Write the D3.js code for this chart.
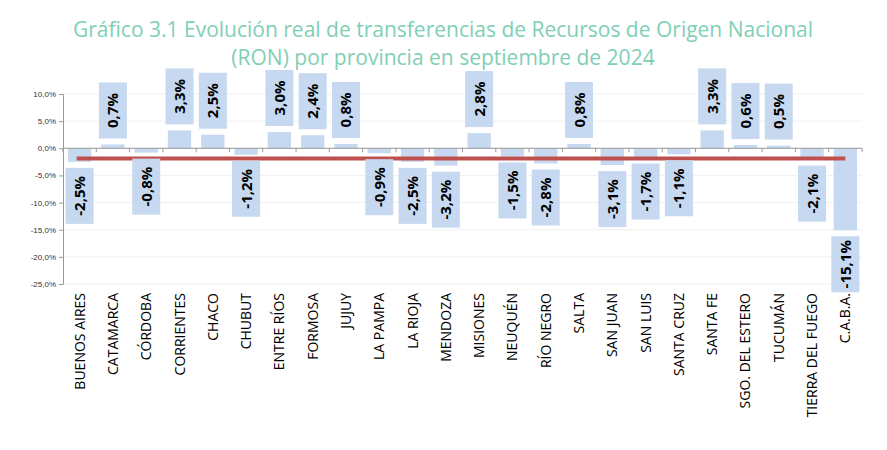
<!DOCTYPE html><html><head><meta charset="utf-8"><script src="https://cdn.jsdelivr.net/npm/d3@7"></script>
<style>body{margin:0;background:#fff}</style></head><body><svg id="c" width="887" height="450"></svg>
<script>
const categories=["BUENOS AIRES","CATAMARCA","CÓRDOBA","CORRIENTES","CHACO","CHUBUT","ENTRE RÍOS","FORMOSA","JUJUY","LA PAMPA","LA RIOJA","MENDOZA","MISIONES","NEUQUÉN","RÍO NEGRO","SALTA","SAN JUAN","SAN LUIS","SANTA CRUZ","SANTA FE","SGO. DEL ESTERO","TUCUMÁN","TIERRA DEL FUEGO","C.A.B.A."];
const values=[-2.5,0.7,-0.8,3.3,2.5,-1.2,3.0,2.4,0.8,-0.9,-2.5,-3.2,2.8,-1.5,-2.8,0.8,-3.1,-1.7,-1.1,3.3,0.6,0.5,-2.1,-15.1];
const average=-1.9;
const yTicks=[10,5,0,-5,-10,-15,-20,-25];
const svg=d3.select("#c");
const x=d3.scaleBand().domain(categories).range([63,862]).paddingInner(0.3).paddingOuter(0.15);
const xb=d3.scaleBand().domain(categories).range([63,862]);
const y=d3.scaleLinear().domain([-25,10]).range([284,94]);
const fmt=v=>v.toFixed(1).replace(".",",")+"%";
svg.append("text").attr("x",443).attr("y",37).attr("text-anchor","middle").attr("fill","#7fcfb5").style("font","21px 'Open Sans'").text("Gráfico 3.1 Evolución real de transferencias de Recursos de Origen Nacional");
svg.append("text").attr("x",443).attr("y",65).attr("text-anchor","middle").attr("fill","#7fcfb5").style("font","21px 'Open Sans'").text("(RON) por provincia en septiembre de 2024");
svg.append("g").selectAll("line").data(yTicks).join("line").attr("x1",63).attr("x2",862).attr("y1",d=>y(d)).attr("y2",d=>y(d)).attr("stroke","#f0f0f0");
const ya=svg.append("g").attr("transform","translate(63,0)").call(d3.axisLeft(y).tickValues(yTicks).tickSize(4).tickFormat(d=>d.toFixed(1).replace(".",",")+"%"));
ya.selectAll("text").style("font","8px 'Liberation Sans'").attr("fill","#333");
ya.selectAll("line,path").attr("stroke","#999");
svg.append("g").selectAll("rect").data(values).join("rect").attr("x",(d,i)=>x(categories[i])).attr("width",x.bandwidth())
 .attr("y",d=>y(Math.max(0,d))).attr("height",d=>Math.abs(y(d)-y(0))).attr("fill","#c6d9f0");
svg.append("line").attr("x1",63).attr("x2",862).attr("y1",y(0)).attr("y2",y(0)).attr("stroke","#999");
svg.append("g").selectAll("line").data(categories.concat(["end"])).join("line").attr("x1",(d,i)=>63+i*xb.bandwidth()).attr("x2",(d,i)=>63+i*xb.bandwidth()).attr("y1",y(0)).attr("y2",y(0)+4).attr("stroke","#999");
svg.append("line").attr("x1",x(categories[0])+x.bandwidth()/2-3).attr("x2",x(categories[23])+x.bandwidth()/2).attr("y1",y(average)).attr("y2",y(average)).attr("stroke","#c0504d").attr("stroke-width",4);
const lab=svg.append("g").selectAll("g").data(values).join("g");
const bw=28,bh=56,gap=6;
lab.append("rect").attr("x",(d,i)=>xb(categories[i])+xb.bandwidth()/2-bw/2).attr("width",bw).attr("height",bh)
 .attr("y",d=>d>=0?y(d)-gap-bh:y(d)+gap).attr("fill","#c6d9f0");
lab.append("text").attr("transform",(d,i)=>{const cx=xb(categories[i])+xb.bandwidth()/2;const cy=d>=0?y(d)-gap-bh/2:y(d)+gap+bh/2;return `translate(${cx+5.5},${cy}) rotate(-90)`})
 .attr("text-anchor","middle").style("font","bold 15px 'Open Sans'").attr("fill","#000").text(d=>fmt(d));
svg.append("g").selectAll("text").data(categories).join("text").attr("transform",d=>`translate(${xb(d)+xb.bandwidth()/2+5},293) rotate(-90)`)
 .attr("text-anchor","end").style("font","14px 'Open Sans'").attr("fill","#000").text(d=>d);
</script></body></html>
